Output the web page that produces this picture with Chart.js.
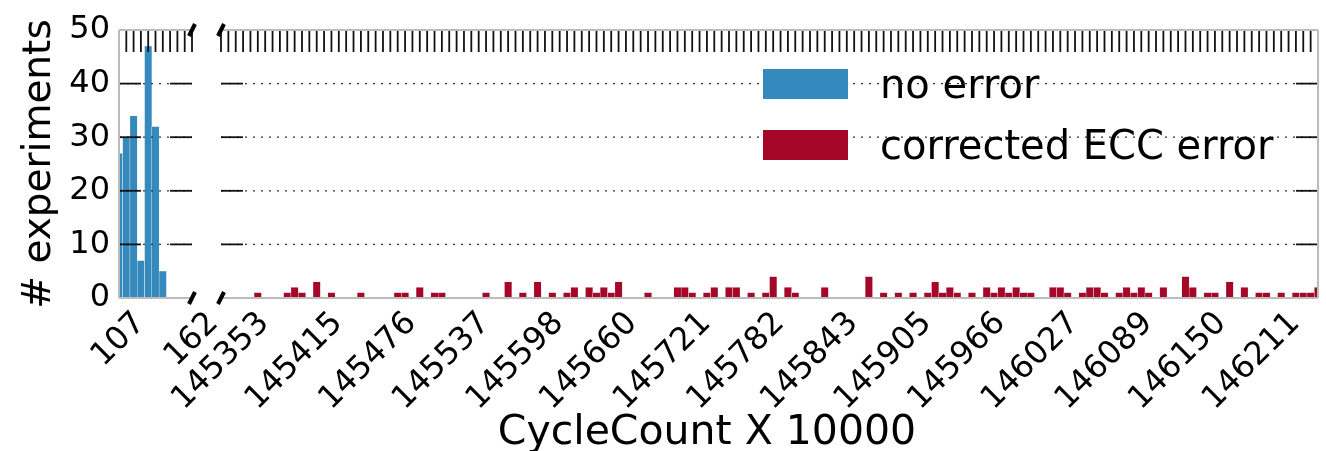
<!DOCTYPE html>
<html>
<head>
<meta charset="utf-8">
<script src="https://cdn.jsdelivr.net/npm/chart.js@4.4.1/dist/chart.umd.min.js"></script>
<style>
  html, body { margin: 0; padding: 0; background: #fff; }
  #wrap { position: relative; width: 1326px; height: 451px; overflow: hidden; }
  #wrap canvas { position: absolute; top: 0; }
  #leftChart { left: 0; }
  #rightChart { left: 100px; }
</style>
</head>
<body>
<div id="wrap">
  <canvas id="leftChart" width="240" height="451"></canvas>
  <canvas id="rightChart" width="1226" height="451"></canvas>
</div>
<script>
const seriesNames = ['no error', 'corrected ECC error'];
const seriesColors = ['#348ABD', '#A60628'];

// left part of the broken axis: bins 0..10, a label every 10th bin
const leftTickLabels = ['107', '162'];
const noErrorCounts = [27, 30, 34, 7, 47, 32, 5, 0, 0, 0, 0];

// right part: bins 0..149
const rightTickLabels = ['145353', '145415', '145476', '145537', '145598', '145660', '145721', '145782',
                         '145843', '145905', '145966', '146027', '146089', '146150', '146211'];
const eccCounts = [
    0, 0, 0, 0, 0, 1, 0, 0, 0, 1,
    2, 1, 0, 3, 0, 1, 0, 0, 0, 1,
    0, 0, 0, 0, 1, 1, 0, 2, 0, 1,
    1, 0, 0, 0, 0, 0, 1, 0, 0, 3,
    0, 1, 0, 3, 0, 1, 0, 1, 2, 0,
    2, 1, 2, 1, 3, 0, 0, 0, 1, 0,
    0, 0, 2, 2, 1, 0, 1, 2, 0, 2,
    2, 0, 1, 0, 1, 4, 0, 2, 1, 0,
    0, 0, 2, 0, 0, 0, 0, 0, 4, 0,
    1, 0, 1, 0, 1, 0, 1, 3, 1, 2,
    1, 0, 1, 0, 2, 1, 2, 1, 2, 1,
    1, 0, 0, 2, 2, 1, 0, 1, 2, 2,
    1, 0, 1, 2, 1, 2, 1, 0, 2, 0,
    0, 4, 2, 0, 1, 1, 0, 3, 0, 2,
    0, 1, 1, 0, 1, 0, 1, 1, 1, 2
];

const yTickValues = [0, 10, 20, 30, 40, 50];
const labelEvery = 10;

Chart.defaults.font.family = '"DejaVu Sans", sans-serif';
Chart.defaults.color = '#000';

function line(ctx, x1, y1, x2, y2) {
    ctx.beginPath();
    ctx.moveTo(x1, y1);
    ctx.lineTo(x2, y2);
    ctx.stroke();
}

// Frame in matplotlib style: dotted grid, inward ticks, grey spines, break marks, rotated labels
const framePlugin = {
    id: 'frame',
    afterDatasetsDraw(chart, args, opts) {
        const { ctx, chartArea: a, scales: { x, y } } = chart;
        ctx.save();

        // dotted grid
        ctx.strokeStyle = '#333';
        ctx.lineWidth = 1.3;
        ctx.setLineDash([2, 6]);
        yTickValues.forEach(v => {
            if (v >= 50) return;
            const py = y.getPixelForValue(v);
            line(ctx, a.left, py, a.right, py);
        });
        ctx.setLineDash([]);

        // inward ticks
        ctx.strokeStyle = '#111';
        ctx.lineWidth = 1.8;
        yTickValues.forEach(v => {
            const py = y.getPixelForValue(v);
            line(ctx, a.left, py, a.left + 22, py);
            line(ctx, a.right - 22, py, a.right, py);
        });
        for (let i = x.min; i <= x.max; i++) {
            const px = x.getPixelForValue(i);
            line(ctx, px, a.top, px, a.top + 22);
        }

        // spines
        ctx.strokeStyle = '#bcbcbc';
        ctx.lineWidth = 2;
        line(ctx, a.left, a.top, a.right, a.top);
        line(ctx, a.left, a.bottom, a.right, a.bottom);
        if (opts.leftSpine) line(ctx, a.left, a.top, a.left, a.bottom);
        if (opts.rightSpine) line(ctx, a.right, a.top, a.right, a.bottom);

        // break marks
        ctx.strokeStyle = '#000';
        ctx.lineWidth = 4;
        const bx = opts.leftSpine ? a.right : a.left;
        [a.top, a.bottom].forEach(by => line(ctx, bx - 3, by + 6, bx + 3, by - 6));

        // x tick labels, rotated 45 and centred on the tick
        const fs = 32;
        ctx.font = fs + 'px "DejaVu Sans"';
        ctx.fillStyle = '#000';
        ctx.textAlign = 'center';
        ctx.textBaseline = 'middle';
        opts.labels.forEach((txt, k) => {
            const w = ctx.measureText(txt).width;
            const s = (w + 0.73 * fs) / Math.SQRT2;
            const cx = x.getPixelForValue(k * labelEvery);
            const cy = a.bottom + 12 + s / 2;
            ctx.save();
            ctx.translate(cx, cy);
            ctx.rotate(-Math.PI / 4);
            ctx.fillText(txt, 0, 0);
            ctx.restore();
        });

        // legend and x title (right chart only)
        if (opts.legend) {
            const lx = opts.legend.x, ly = opts.legend.y;
            ctx.font = '40px "DejaVu Sans"';
            ctx.textAlign = 'left';
            ctx.textBaseline = 'alphabetic';
            seriesNames.forEach((name, i) => {
                const top = ly + i * 61;
                ctx.fillStyle = seriesColors[i];
                ctx.fillRect(lx, top, 85, 30);
                ctx.fillStyle = '#000';
                ctx.fillText(name, lx + 117, top + 29);
            });
        }
        if (opts.xTitle) {
            ctx.font = '41px "DejaVu Sans"';
            ctx.textAlign = 'center';
            ctx.textBaseline = 'alphabetic';
            ctx.fillStyle = '#000';
            ctx.fillText(opts.xTitle.text, opts.xTitle.x, opts.xTitle.y);
        }
        ctx.restore();
    }
};

function barData(counts) {
    return counts.map((v, i) => ({ x: i, y: v }));
}

new Chart(document.getElementById('leftChart'), {
    type: 'bar',
    data: {
        datasets: [{
            label: seriesNames[0],
            data: barData(noErrorCounts),
            backgroundColor: seriesColors[0],
            borderColor: '#eeeeee',
            borderWidth: 0.5,
            barPercentage: 1,
            categoryPercentage: 1
        }]
    },
    options: {
        responsive: false,
        animation: false,
        devicePixelRatio: 1,
        layout: { padding: { top: 30, right: 48, bottom: 153, left: 0 } },
        plugins: {
            legend: { display: false },
            tooltip: { enabled: false },
            frame: { leftSpine: true, labels: leftTickLabels }
        },
        scales: {
            x: { type: 'linear', min: 0, max: noErrorCounts.length - 1, offset: false, display: false },
            y: {
                min: 0,
                max: 50,
                ticks: { stepSize: 10, font: { size: 32 }, color: '#000', padding: 9 },
                grid: { display: false, drawTicks: false },
                border: { display: false },
                title: { display: true, text: '# experiments', font: { size: 39 }, color: '#000', padding: { top: 16, bottom: 0 } },
                afterFit: s => { s.width = 119; }
            }
        }
    },
    plugins: [framePlugin]
});

new Chart(document.getElementById('rightChart'), {
    type: 'bar',
    data: {
        datasets: [{
            label: seriesNames[1],
            data: barData(eccCounts),
            backgroundColor: seriesColors[1],
            borderColor: '#eeeeee',
            borderWidth: 0.5,
            barPercentage: 1,
            categoryPercentage: 1
        }]
    },
    options: {
        responsive: false,
        animation: false,
        devicePixelRatio: 1,
        layout: { padding: { top: 30, right: 8, bottom: 153, left: 121 } },
        plugins: {
            legend: { display: false },
            tooltip: { enabled: false },
            frame: {
                rightSpine: true,
                labels: rightTickLabels,
                legend: { x: 663, y: 69 },
                xTitle: { text: 'CycleCount X 10000', x: 607, y: 444 }
            }
        },
        scales: {
            x: { type: 'linear', min: 0, max: eccCounts.length - 1, offset: false, display: false },
            y: { min: 0, max: 50, display: false }
        }
    },
    plugins: [framePlugin]
});
</script>
</body>
</html>
